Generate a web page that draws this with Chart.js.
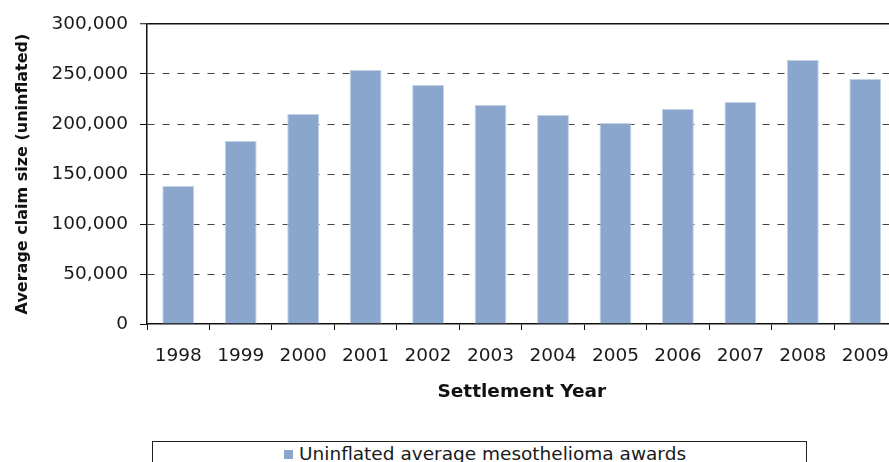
<!DOCTYPE html>
<html>
<head>
<meta charset="utf-8">
<script src="https://cdn.jsdelivr.net/npm/chart.js@4/dist/chart.umd.min.js"></script>
<style>
  html, body { margin: 0; padding: 0; background: #fff; overflow: hidden; }
  #wrap { position: relative; width: 889px; height: 462px; overflow: hidden; }
  #chart { position: absolute; left: 0; top: 0; }
  #legend {
    position: absolute; left: 152px; top: 441px; width: 655px; height: 40px;
    border: 1px solid #222; box-sizing: border-box;
    font-family: 'DejaVu Sans', sans-serif; font-size: 18.5px; color: #1a1a1a;
  }
  #legend .item { position: absolute; left: 131px; top: 0; line-height: 24px; white-space: nowrap; }
  #legend .box { display: inline-block; width: 9px; height: 9px; background: #8aa6cc; margin-right: 6px; vertical-align: 1px; }
</style>
</head>
<body>
<div id="wrap">
  <canvas id="chart" width="904" height="404"></canvas>
  <div id="legend"><div class="item"><span class="box"></span>Uninflated average mesothelioma awards</div></div>
</div>
<script>
const years = ['1998', '1999', '2000', '2001', '2002', '2003', '2004', '2005', '2006', '2007', '2008', '2009']
const avgAwards = [138000, 183000, 210000, 254000, 239000, 219000, 209000, 201000, 215000, 222000, 264000, 245000]
const yTickValues = [0, 50000, 100000, 150000, 200000, 250000, 300000]

const tickFont = { family: 'DejaVu Sans', size: 18.5 }
const titleFont = { family: 'DejaVu Sans', size: 18.5, weight: 'bold' }

new Chart(document.getElementById('chart'), {
  type: 'bar',
  data: {
    labels: years,
    datasets: [{
      label: 'Uninflated average mesothelioma awards',
      data: avgAwards,
      backgroundColor: '#8aa6cc',
      borderColor: '#c3d1e6',
      borderWidth: 1,
      barPercentage: 0.51,
      categoryPercentage: 1,
    }]
  },
  options: {
    responsive: false,
    animation: false,
    layout: { padding: { left: 0, right: 4, top: 24, bottom: 0 } },
    plugins: {
      legend: { display: false },
      tooltip: { enabled: false },
    },
    scales: {
      x: {
        offset: true,
        grid: {
          offset: true,
          drawOnChartArea: false,
          tickLength: 6,
          tickColor: '#111',
          tickWidth: 1,
        },
        border: { color: '#111', width: 1.5 },
        ticks: {
          color: '#1a1a1a',
          font: tickFont,
          padding: 15,
          maxRotation: 0,
          autoSkip: false,
        },
        title: {
          display: true,
          text: 'Settlement Year',
          color: '#111',
          font: titleFont,
          padding: { top: 0, bottom: 1 },
        },
        afterFit: s => { s.height = 80 },
      },
      y: {
        min: 0,
        max: 300000,
        afterBuildTicks: s => { s.ticks = yTickValues.map(v => ({ value: v })) },
        grid: {
          color: ctx => {
            if (!ctx.tick) return '#444'
            if (ctx.tick.value === 0) return 'rgba(0,0,0,0)'
            return ctx.tick.value === 300000 ? '#111' : '#444'
          },
          lineWidth: ctx => (ctx.tick && ctx.tick.value === 300000 ? 1.5 : 1),
          tickLength: 7,
          tickColor: '#111',
          tickWidth: 1,
        },
        border: {
          color: '#111',
          width: 1.5,
          dash: ctx => (ctx.tick && ctx.tick.value === 300000 ? [] : [7, 8]),
        },
        ticks: {
          color: '#1a1a1a',
          font: tickFont,
          padding: 12,
          callback: v => v.toLocaleString('en-US'),
        },
        title: {
          display: true,
          text: 'Average claim size (uninflated)',
          color: '#111',
          font: { family: 'DejaVu Sans', size: 16, weight: 'bold' },
          padding: { top: 13, bottom: 0 },
        },
        afterFit: s => { s.width = 147 },
      }
    }
  }
})
</script>
</body>
</html>
